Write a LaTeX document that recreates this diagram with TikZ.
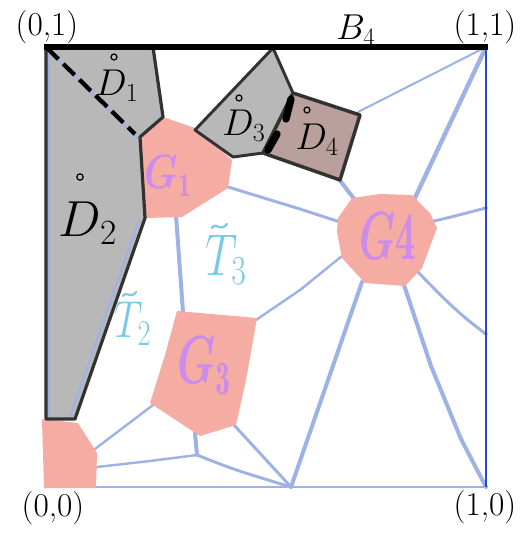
\RequirePackage{fix-cm}
\documentclass[tikz,border=0pt]{standalone}
\usepackage{amsmath}
\usepackage{graphicx}
\usepackage{fontspec}
\definecolor{vorblue}{RGB}{158,178,230}
\definecolor{edgeblue}{RGB}{40,70,210}
\definecolor{grayfill}{RGB}{184,184,184}
\definecolor{darkline}{RGB}{50,50,50}
\definecolor{pinkfill}{RGB}{245,172,162}
\definecolor{dfourfill}{RGB}{186,160,156}
\definecolor{purpletext}{RGB}{205,140,235}
\definecolor{cyantext}{RGB}{120,200,232}
\tikzset{
  vor/.style={draw=vorblue,line width=2.2pt,line cap=round,line join=round},
  vorthin/.style={draw=vorblue,line width=1.5pt,line cap=round,line join=round},
  vorthick/.style={draw=vorblue,line width=3pt,line cap=round,line join=round},
  pinkreg/.style={fill=pinkfill,draw=none},
  grayreg/.style={fill=grayfill,draw=darkline,line width=2.2pt,line join=round},
  ring/.style={draw=black,line width=0.9pt},
  tildemark/.style={draw=cyantext,line width=1.6pt,line cap=round},
  lab/.style={font=\fontsize{25}{28}\selectfont,text=black,inner sep=0pt},
  dlab/.style={font=\fontsize{28}{30}\selectfont,text=black,inner sep=0pt},
  glab/.style={font=\fontsize{34}{38}\selectfont\bfseries,text=purpletext,inner sep=0pt},
  tlab/.style={font=\fontsize{30}{32}\selectfont,text=cyantext,inner sep=0pt}
}
\begin{document}
\begin{tikzpicture}[x=0.75pt,y=-0.75pt]
\useasboundingbox (0,0) rectangle (522,533);
\fill[white] (0,0) rectangle (522,533);
% square corners
\coordinate (TL) at (46,47);
\coordinate (TR) at (486,47);
\coordinate (BR) at (486,487);
\coordinate (BL) at (46,487);
\coordinate (BP) at (291,487);
\coordinate (J) at (197,455);
% blue boundary lines
\draw[vorthin] (TL) -- (BL);
\draw[vorthin,line width=1.8pt] (BL) -- (BR);
% Voronoi edges
\draw[vorthick] (176,215) -- (183,312);
\draw[vor] (228,187) -- (300,209) -- (340,222);
\draw[vorthin,line width=1.8pt] (256,320) -- (300,290) -- (342,256);
\draw[vorthick] (338,178) -- (355,200);
\draw[vorthin] (358,112) -- (TR);
\draw[vorthick,line width=3.3pt] (413,202) -- (TR);
\draw[vor] (430,222) -- (455,216) -- (486,208);
\draw[vor] (418,272) .. controls (445,300) and (460,315) .. (486,334);
\draw[vorthick] (403,282) -- (431,366) -- (461,439) -- (BR);
\draw[vorthick] (362,282) -- (BP);
\draw[vor] (234,425) -- (BP);
\draw[vorthick] (195,433) -- (J);
\draw[vor] (J) .. controls (235,470) .. (BP);
\draw[vor,line width=1.8pt] (J) -- (150,461) -- (97,467);
\draw[vorthin,line width=1.8pt] (153,405) -- (95,449);
% right edge
\draw[edgeblue,line width=1.1pt] (TR) -- (BR);
\fill[edgeblue] (486,208) circle (1.6) (486,334) circle (1.6);
% pink regions
\fill[pinkreg] (163,117) -- (195,128) -- (232,160) -- (228,188) -- (182,217) -- (145,218) -- (136,150) -- (140,137) -- cycle;
\fill[pinkreg] (352,198) -- (380,194) -- (412,195) -- (430,213) -- (437,228) -- (422,268) -- (405,286) -- (365,283) -- (342,258) -- (337,232) -- (338,218) -- cycle;
\fill[pinkreg] (177,311) -- (257,318) -- (246,380) -- (236,425) -- (200,436) -- (150,403) -- (165,355) -- cycle;
\fill[pinkreg] (42,419) -- (78,423) -- (97,453) -- (96,488) -- (44,488) -- cycle;
% gray region D1/D2
\fill[grayfill] (TL) -- (153,47) -- (163,117) -- (140,137) -- (145,218) -- (75,419) -- (46,419) -- cycle;
\draw[vorthin] (50,52) -- (138,139);
\draw[vorthin] (139,220) -- (70,417);
\draw[vorthin] (49,50) -- (49,417);
\draw[darkline,line width=2.4pt,line join=round] (153,47) -- (163,117) -- (140,137) -- (145,218) -- (75,419) -- (46,419) -- (TL);
\draw[black,line width=3.2pt,dash pattern=on 12pt off 5pt] (47,48) -- (135,134);
% D3 and D4
\draw[grayreg] (195,130) -- (273,48) -- (293,93) -- (263,153) -- (233,157) -- cycle;
\fill[purpletext,opacity=0.25] (290,120) ellipse (7 and 14);
\draw[grayreg,fill=dfourfill,line width=2.6pt] (293,93) -- (360,115) -- (340,180) -- (263,153) -- cycle;
\draw[black,line width=5.5pt,line cap=round] (291,99) -- (286,119);
\draw[black,line width=5.5pt,line cap=round] (277,134) -- (268,150);
% top boundary B4
\draw[black,line width=3.8pt] (44,47) -- (488,47);
% labels
\node[lab] (l01) at (47,27) {(0,1)};
\node[lab,font=\fontsize{27}{29}\selectfont] (lb4) at (356,30) {$B_4$};
\node[lab] (l11) at (485,27) {(1,1)};
\node[lab] (l00) at (53,508) {(0,0)};
\node[lab] (l10) at (485,507) {(1,0)};
\node[dlab] (d1) at (117,86) {$D_1$};
\node[dlab,font=\fontsize{38}{40}\selectfont] (d2) at (88,223) {$D_2$};
\node[dlab] (d3) at (244,126) {$D_3$};
\node[dlab] (d4) at (317,140) {$D_4$};
\draw[ring] (114,57) circle (3);
\draw[ring] (80,177) circle (3.2);
\draw[ring] (239,98) circle (3);
\draw[ring] (307,110) circle (3);
\node[glab,font=\fontsize{30}{32}\selectfont\bfseries] (g1) at (168,176) {\scalebox{0.95}[1.2]{$\boldsymbol{G}_{\mathbf 1}$}};
\node[glab] (g4) at (388,236) {\scalebox{0.9}[1.5]{$\boldsymbol{G}\mathbf{4}$}};
\node[glab] (g3) at (204,366) {\scalebox{0.95}[1.5]{$\boldsymbol{G}_{\mathbf 3}$}};
\node[tlab,font=\fontsize{34}{36}\selectfont] (t3) at (226,260) {\scalebox{1}[1.3]{$T_3$}};
\node[tlab] (t2) at (133,324) {\scalebox{1}[1.3]{$T_2$}};
\draw[tildemark] (212,228) .. controls (216,221) and (220,233) .. (227,224);
\draw[tildemark] (123,296) .. controls (127,290) and (130,300) .. (136,292);
\end{tikzpicture}
\end{document}
